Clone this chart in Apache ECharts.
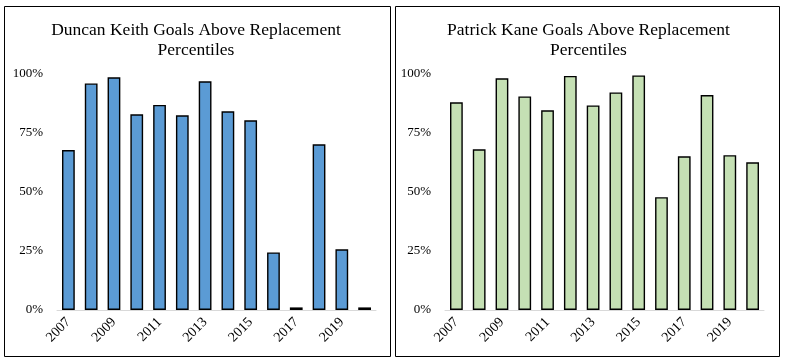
<!DOCTYPE html>
<html>
<head>
<meta charset="utf-8">
<script src="https://cdn.jsdelivr.net/npm/echarts@6/dist/echarts.min.js"></script>
<style>
html,body{margin:0;padding:0;background:#fff;}
#c1{position:absolute;left:0;top:0;width:392px;height:361px;}
#c2{position:absolute;left:392px;top:0;width:393px;height:361px;}
</style>
</head>
<body>
<div id="c1"></div>
<div id="c2"></div>
<script>
const years = ['2007','2008','2009','2010','2011','2012','2013','2014','2015','2016','2017','2018','2019','2020'];
const keithValues = [0.678, 0.960, 0.986, 0.829, 0.869, 0.825, 0.969, 0.842, 0.804, 0.244, 0.011, 0.702, 0.257, 0.011];
const kaneValues  = [0.880, 0.681, 0.982, 0.905, 0.846, 0.992, 0.867, 0.922, 0.994, 0.478, 0.651, 0.911, 0.656, 0.626];
const yTicks = [0, 0.25, 0.5, 0.75, 1];
const keithTitle = 'Duncan Keith Goals Above Replacement\nPercentiles';
const kaneTitle = 'Patrick Kane Goals Above Replacement\nPercentiles';

const FONT = '"Liberation Serif", "DejaVu Serif", serif';

function makeOption(title, values, color, grid, border) {
  return {
    animation: false,
    graphic: [{
      type: 'rect',
      shape: border,
      style: { fill: 'none', stroke: '#000', lineWidth: 1 },
      silent: true
    }],
    title: {
      text: title,
      left: 'center',
      top: 15,
      textStyle: { fontFamily: FONT, fontSize: 17.5, fontWeight: 'normal', color: '#000', lineHeight: 20 }
    },
    grid: grid,
    xAxis: {
      type: 'category',
      data: years,
      axisLine: { lineStyle: { color: '#D9D9D9', width: 1 } },
      axisTick: { show: false },
      axisLabel: {
        interval: 1,
        rotate: 45,
        margin: 10,
        fontFamily: FONT,
        fontSize: 14,
        color: '#000'
      }
    },
    yAxis: {
      type: 'value',
      min: yTicks[0],
      max: yTicks[yTicks.length - 1],
      interval: yTicks[1] - yTicks[0],
      splitLine: { show: false },
      axisLine: { show: false },
      axisTick: { show: false },
      axisLabel: {
        margin: 14,
        fontFamily: FONT,
        fontSize: 13,
        color: '#000',
        formatter: v => Math.round(v * 100) + '%'
      }
    },
    series: [{
      type: 'bar',
      data: values,
      barWidth: '56%',
      itemStyle: { color: color, borderColor: '#000', borderWidth: 1.4 }
    }]
  };
}

const c1 = echarts.init(document.getElementById('c1'), null, { renderer: 'canvas' });
c1.setOption(makeOption(keithTitle, keithValues, '#5B9BD5',
  { left: 57, right: 16, top: 74, bottom: 51 },
  { x: 4.5, y: 6.5, width: 386, height: 350 }));

const c2 = echarts.init(document.getElementById('c2'), null, { renderer: 'canvas' });
c2.setOption(makeOption(kaneTitle, kaneValues, '#C5E0B4',
  { left: 53, right: 21, top: 74, bottom: 51 },
  { x: 3.5, y: 6.5, width: 384, height: 350 }));
</script>
</body>
</html>
